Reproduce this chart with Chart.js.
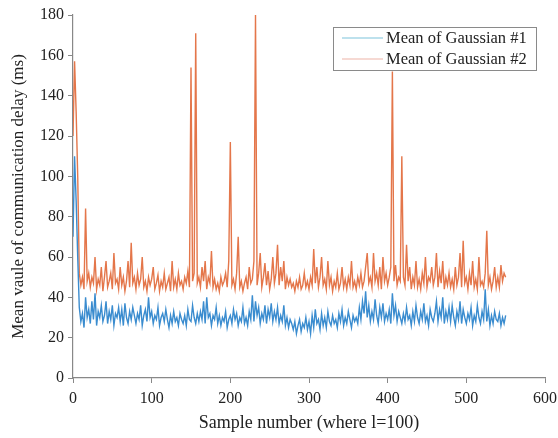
<!DOCTYPE html>
<html>
<head>
<meta charset="utf-8">
<script src="https://cdn.jsdelivr.net/npm/chart.js@4/dist/chart.umd.min.js"></script>
<style>
  html, body { margin: 0; padding: 0; background: #fff; }
  #wrap { width: 558px; height: 438px; }
</style>
</head>
<body>
<div id="wrap"><canvas id="chart" width="558" height="438"></canvas></div>
<script>
// one value every 2 samples, sample 0 .. 550
const gauss1 = [
  70,110,88,60,35,28,32,25,40,30,
  34,27,38,29,42,26,33,30,36,28,
  31,38,27,33,29,36,26,32,30,35,
  28,34,26,37,30,27,33,29,35,31,
  27,32,29,36,26,31,34,28,40,30,
  33,27,31,29,35,26,30,32,28,34,
  29,25,31,27,33,28,30,26,32,29,
  27,31,26,34,29,28,36,30,27,32,
  28,33,29,38,27,40,30,32,26,31,
  29,35,27,31,26,30,28,33,25,29,
  31,27,34,29,32,26,30,28,35,27,
  30,26,33,29,41,28,38,31,35,27,
  32,29,36,27,34,30,37,28,33,29,
  35,27,31,28,36,26,30,25,29,27,
  24,28,22,26,29,23,27,25,30,24,
  28,22,31,25,34,27,29,24,32,26,
  30,25,33,28,26,31,27,29,25,32,
  28,34,26,30,27,33,29,25,31,28,
  30,27,35,29,38,32,43,30,36,28,
  33,29,39,31,27,35,30,37,28,32,
  29,34,27,42,31,36,28,33,30,27,
  32,28,35,29,31,26,33,28,36,30,
  27,33,29,37,28,31,26,34,30,28,
  32,38,28,34,30,40,27,33,29,35,
  28,36,30,26,33,29,38,27,34,30,
  27,32,29,35,26,31,28,36,30,27,
  33,29,44,28,34,26,31,27,33,29,
  28,32,26,30,27,31
];
const gauss2 = [
  120,157,132,100,52,46,50,44,84,48,
  52,45,50,47,60,44,49,46,55,43,
  50,58,45,48,52,44,62,47,49,44,
  55,46,50,43,48,58,45,67,47,50,
  44,52,46,49,60,45,48,43,50,46,
  49,55,44,47,51,43,48,45,52,44,
  47,50,43,58,45,49,44,52,46,48,
  44,50,47,53,45,154,48,52,171,47,
  50,45,55,48,58,44,50,47,63,45,
  49,44,47,43,50,46,48,52,45,58,
  117,46,49,44,52,70,45,48,43,47,
  50,44,55,47,49,58,180,46,52,62,
  45,50,57,46,53,44,49,60,47,52,
  66,46,55,48,58,44,50,46,49,45,
  47,43,48,45,50,44,46,52,45,48,
  44,50,46,64,47,55,45,50,60,46,
  49,44,58,46,50,43,48,45,52,44,
  47,55,45,49,44,50,46,58,45,48,
  44,50,46,52,45,48,55,62,47,50,
  45,62,48,52,46,55,44,60,48,52,
  46,50,55,152,48,56,46,50,48,110,
  50,46,66,48,55,44,50,46,58,45,
  49,44,52,47,60,45,50,48,55,46,
  50,62,45,53,47,58,44,50,46,52,
  45,49,44,55,46,50,62,45,68,47,
  50,44,52,46,58,45,49,44,60,46,
  48,45,52,73,46,50,44,48,55,45,
  50,45,56,48,52,50
];
const sampleStep = 2;
const seriesNames = ['Mean of Gaussian #1', 'Mean of Gaussian #2'];
const xTicks = [0, 100, 200, 300, 400, 500, 600];
const yTicks = [0, 20, 40, 60, 80, 100, 120, 140, 160, 180];

const toPoints = arr => arr.map((v, i) => ({ x: i * sampleStep, y: v }));

const serif = '"Liberation Serif", "DejaVu Serif", serif';

// legend box drawn inside the plot, top right
const boxLegend = {
  id: 'boxLegend',
  afterDraw(chart) {
    const ctx = chart.ctx;
    const x0 = 333, y0 = 27, w = 203, h = 43;
    ctx.save();
    ctx.fillStyle = '#fff';
    ctx.fillRect(x0, y0, w, h);
    ctx.strokeStyle = '#8a8a8a';
    ctx.lineWidth = 1;
    ctx.strokeRect(x0 + 0.5, y0 + 0.5, w, h);
    ctx.font = '16.5px ' + serif;
    ctx.textBaseline = 'middle';
    chart.data.datasets.forEach((ds, i) => {
      const yy = y0 + 11 + i * 21;
      ctx.strokeStyle = ds.legendColor;
      ctx.lineWidth = 1.2;
      ctx.beginPath();
      ctx.moveTo(x0 + 9, yy);
      ctx.lineTo(x0 + 50, yy);
      ctx.stroke();
      ctx.fillStyle = '#222';
      ctx.fillText(ds.label, x0 + 53, yy + 1);
    });
    ctx.restore();
  }
};

new Chart(document.getElementById('chart'), {
  type: 'line',
  data: {
    datasets: [
      {
        label: seriesNames[0],
        data: toPoints(gauss1),
        borderColor: '#3a8ccf',
        legendColor: '#7cc3dc',
        borderWidth: 1.4,
        pointRadius: 0,
        tension: 0
      },
      {
        label: seriesNames[1],
        data: toPoints(gauss2),
        borderColor: '#e4764a',
        legendColor: '#eeb3a8',
        borderWidth: 1.4,
        pointRadius: 0,
        tension: 0
      }
    ]
  },
  options: {
    responsive: false,
    animation: false,
    layout: { padding: { left: 0, top: 15, right: 13, bottom: 4 } },
    plugins: {
      legend: { display: false },
      tooltip: { enabled: false }
    },
    scales: {
      x: {
        type: 'linear',
        min: 0,
        max: 600,
        afterBuildTicks: s => { s.ticks = xTicks.map(v => ({ value: v })); },
        afterFit: s => { s.height = 56; s.paddingRight = 0; },
        grid: { drawOnChartArea: false, tickLength: 5, color: '#888' },
        border: { color: '#888', width: 1.2 },
        ticks: { color: '#222', font: { family: serif, size: 16 }, padding: 6, maxRotation: 0 },
        title: {
          display: true,
          text: 'Sample number (where l=100)',
          color: '#222',
          font: { family: serif, size: 18 },
          padding: { top: 0, bottom: 0 }
        }
      },
      y: {
        min: 0,
        max: 180,
        afterBuildTicks: s => { s.ticks = yTicks.map(v => ({ value: v })); },
        afterFit: s => { s.width = 73; },
        grid: { drawOnChartArea: false, tickLength: 5, color: '#888' },
        border: { color: '#888', width: 1.2 },
        ticks: { color: '#222', font: { family: serif, size: 16 }, padding: 4 },
        title: {
          display: true,
          text: 'Mean vaule of communication delay (ms)',
          color: '#222',
          font: { family: serif, size: 17 },
          padding: { top: 8, bottom: 6 }
        }
      }
    }
  },
  plugins: [boxLegend]
});
</script>
</body>
</html>
